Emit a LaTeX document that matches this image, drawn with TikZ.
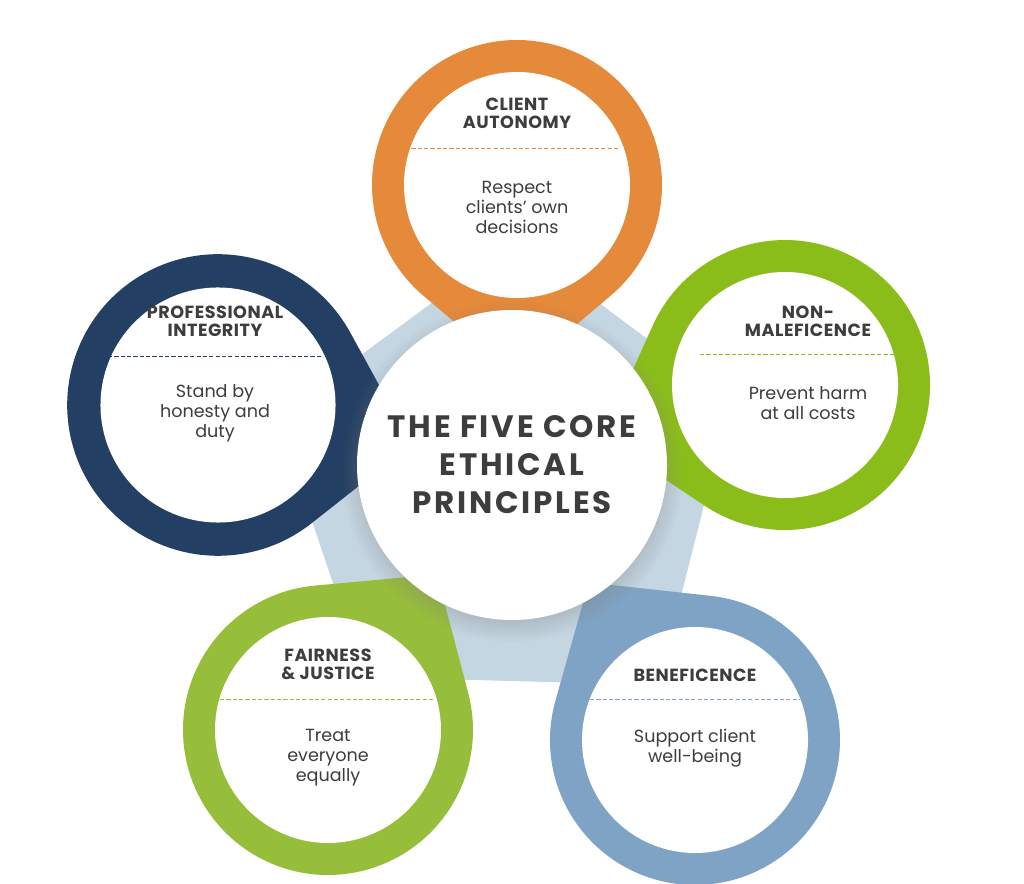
\documentclass[tikz,border=0pt]{standalone}
\usepackage{fontspec}
\setmainfont{Poppins}
\usepackage{tikz}
\usetikzlibrary{calc,shadows}
\definecolor{orng}{HTML}{E5893A}
\definecolor{lime}{HTML}{8BBD1A}
\definecolor{navy}{HTML}{233F63}
\definecolor{olive}{HTML}{97BE3B}
\definecolor{steel}{HTML}{7FA3C4}
\definecolor{pent}{HTML}{C4D6E2}
\definecolor{ink}{HTML}{3D3D3D}
\tikzset{
  head/.style={text=ink, align=center, font=\fontsize{12.5}{12.8}\selectfont\bfseries\addfontfeatures{LetterSpace=3}},
  body/.style={text=ink, align=center, font=\fontsize{12.5}{14.2}\selectfont},
  sep/.style={dashed, thin, dash pattern=on 3pt off 1.5pt},
}
% ring with a tip pointing to the centre
\newcommand{\droplet}[5]{%
  \begin{scope}[shift={(#1,#2)}, rotate=#3]
    \fill[#4] (190,0) -- (40.3:145) arc (40.3:319.7:145) -- cycle;
    \fill[white] (0,0) circle (113);
  \end{scope}
  \coordinate (#5) at (#1,#2);}

\begin{document}
\begin{tikzpicture}[x=0.025cm, y=0.025cm]
\useasboundingbox (0,0) rectangle (1024,883);
\coordinate (mid) at (512,418);

% pentagon behind
\fill[pent, rounded corners=12] ($(mid)!0.8!(517,698)$) -- ($(mid)!0.8!(785,498)$)
  -- ($(mid)!0.8!(695,143)$) -- ($(mid)!0.8!(328,153)$) -- ($(mid)!0.8!(218,478)$) -- cycle;

% rings
\droplet{517}{698}{-90}{orng}{aut}
\droplet{785}{498}{196}{lime}{non}
\begin{scope}[scale around={1.04:(218,478)}]
\droplet{218}{478}{-11.5}{navy}{pro}
\end{scope}
\droplet{328}{153}{55}{olive}{fai}
\droplet{695}{143}{124}{steel}{ben}

% centre
\node[circle, fill=white, minimum size=310*0.025cm, inner sep=0pt,
  circular drop shadow={shadow xshift=0pt, shadow yshift=-4pt, opacity=0.35}] (core) at (mid) {};
\node[text=ink, align=center, font=\fontsize{22}{27}\selectfont\bfseries\addfontfeatures{LetterSpace=9}] (title) at (core)
  {THE FIVE CORE\\ETHICAL\\PRINCIPLES};

% labels
\node[head] (autH) at (517,770) {CLIENT\\AUTONOMY};
\draw[sep, orng] (405,735) -- (620,735);
\node[body] (autB) at (517,676) {Respect\\clients’ own\\decisions};

\node[head] (proH) at (215,562) {PROFESSIONAL\\INTEGRITY};
\draw[sep, navy] (108,527) -- (322,527);
\node[body] (proB) at (215,470) {Stand by\\honesty and\\duty};

\node[head] (nonH) at (808,562) {NON-\\MALEFICENCE};
\draw[sep, lime] (700,529) -- (912,529);
\node[body] (nonB) at (808,480) {Prevent harm\\at all costs};

\node[head] (faiH) at (328,219) {FAIRNESS\\\& JUSTICE};
\draw[sep, olive] (220,184) -- (435,184);
\node[body] (faiB) at (328,125) {Treat\\everyone\\equally};

\node[head] (benH) at (695,208) {BENEFICENCE};
\draw[sep, steel] (590,184) -- (800,184);
\node[body] (benB) at (695,135) {Support client\\well-being};
\end{tikzpicture}
\end{document}
